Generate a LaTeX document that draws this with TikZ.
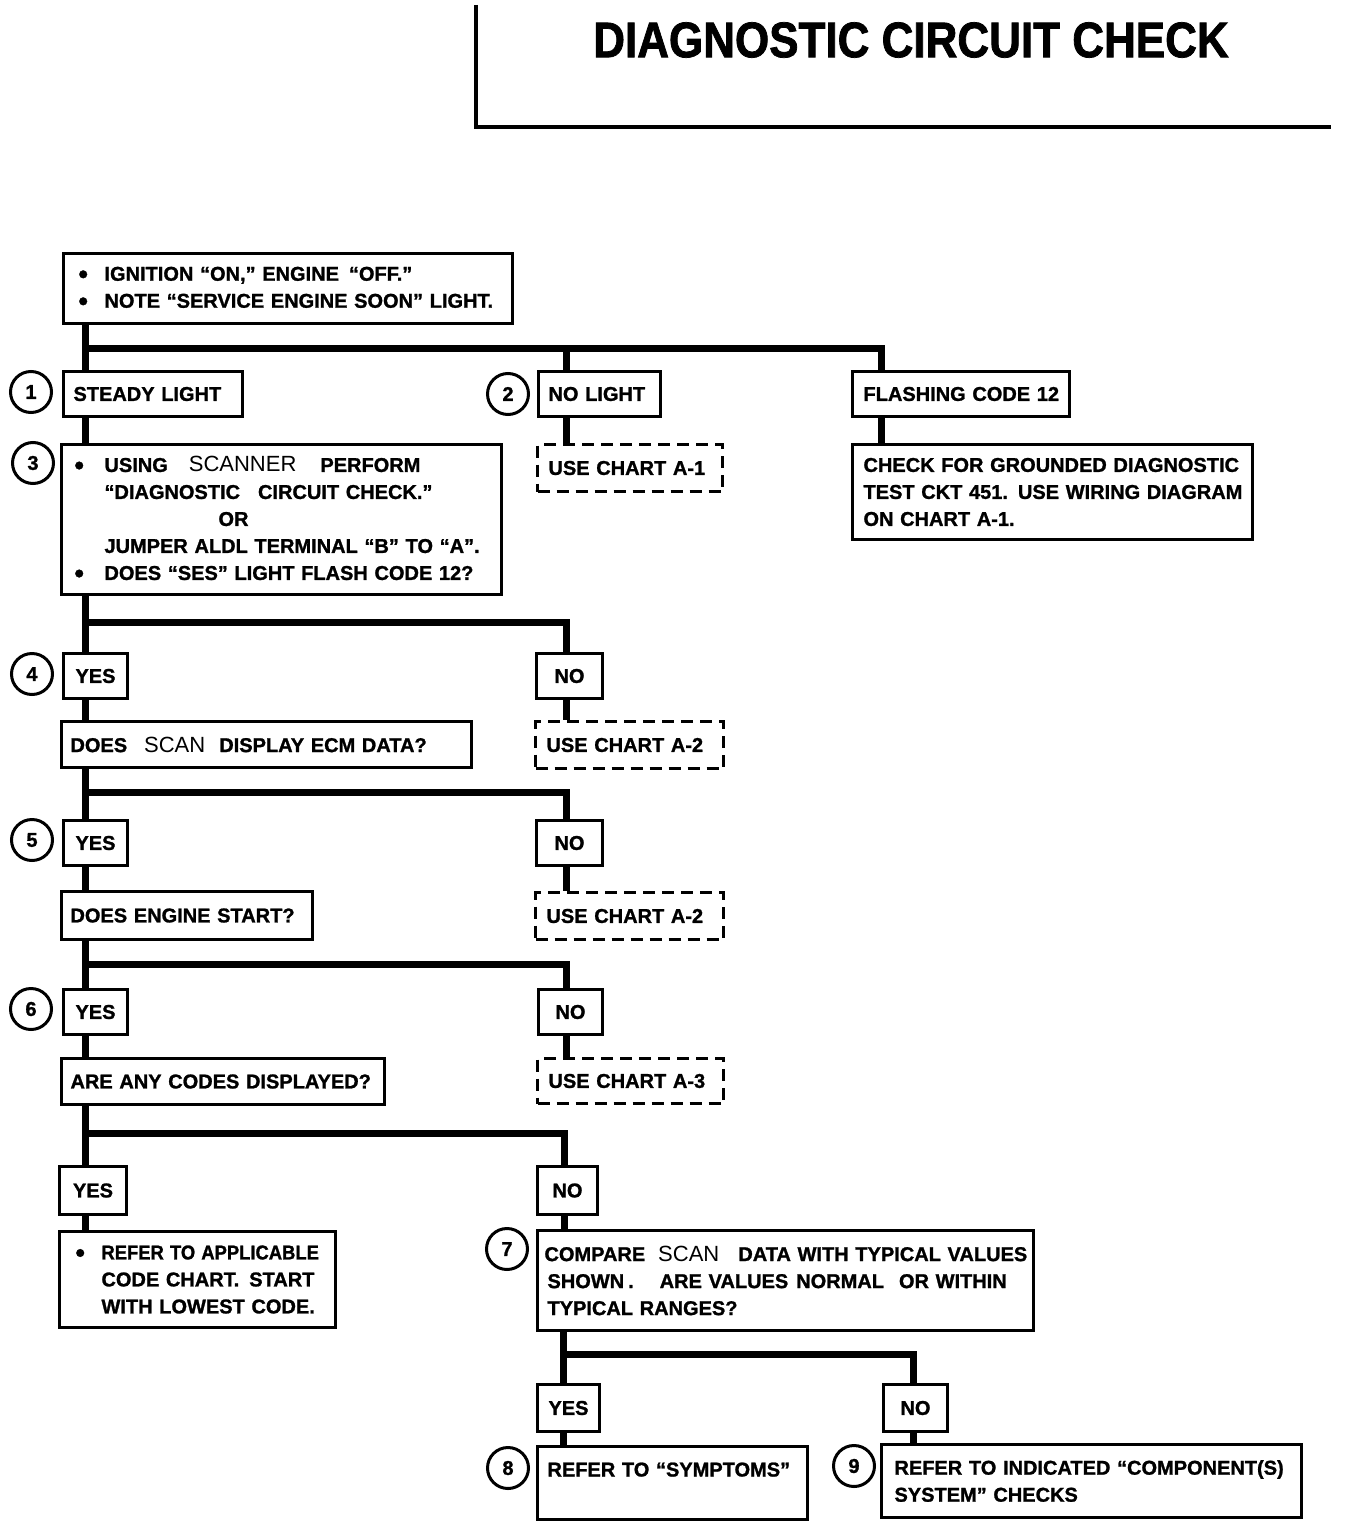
\documentclass[tikz,border=0pt]{standalone}
\usepackage{fontspec}
\setmainfont{Liberation Sans}[BoldFeatures={FakeBold=1.2}]
\newfontfamily\titlefont{Liberation Sans}[FakeStretch=0.88, BoldFeatures={FakeBold=1.5}]
\newcommand{\bodyfnt}{\fontsize{20}{27}\selectfont\bfseries}
\newcommand{\bulx}[1]{\makebox[#1][l]{\raisebox{-2.5pt}{\scalebox{1.35}{•}}}}
\newcommand{\scanw}[1]{{\fontsize{22}{27}\selectfont\mdseries #1}}
\begin{document}
\begin{tikzpicture}[x=1pt,y=-1pt,
  box/.style={draw, line width=3pt, anchor=north west, inner xsep=10pt, inner ysep=0pt, align=left, font=\bodyfnt},
  dbox/.style={box, dash pattern=on 12pt off 7pt},
  ybox/.style={draw, line width=3pt, anchor=north west, inner sep=0pt, align=center, font=\bodyfnt},
  num/.style={draw, circle, line width=3pt, minimum size=41pt, inner sep=0pt, font=\bodyfnt},
  conn/.style={line width=7pt, line join=miter},
  frame/.style={line width=3.5pt}]
\useasboundingbox[fill=white] (0,0) rectangle (1344,1528);

% title
\draw[frame] (476,5) -- (476,127) -- (1331,127);
\node[font=\titlefont\fontsize{50}{60}\selectfont\bfseries] (T) at (911,40) {DIAGNOSTIC CIRCUIT CHECK};

% row 0
\node[box, inner xsep=15pt, minimum width=449pt, minimum height=70pt, text width=419pt] (A) at (62,252)
  {\mbox{\bulx{26pt}IGNITION “ON,” ENGINE\hspace{10pt}“OFF.”}\\
   \mbox{\bulx{26pt}NOTE “SERVICE ENGINE SOON” LIGHT.}};

% row 1
\node[box, minimum width=179pt, minimum height=45pt, text width=159pt] (S1) at (62,370) {\mbox{STEADY LIGHT}};
\node[box, minimum width=122pt, minimum height=45pt, text width=102pt] (N1) at (537,370) {\mbox{NO LIGHT}};
\node[box, inner xsep=11pt, minimum width=217pt, minimum height=45pt, text width=195pt] (F1) at (851,370) {\mbox{FLASHING CODE 12}};
\node[num] (c1) at (31,392) {1};
\node[num] (c2) at (508,394) {2};

% row 2
\node[box, inner xsep=13pt, minimum width=440pt, minimum height=150pt, text width=414pt] (B3) at (60,443)
  {\mbox{\bulx{30pt}USING\hspace{21pt}\scanw{SCANNER}\hspace{24pt}PERFORM}\\
   \mbox{\hspace*{30pt}“DIAGNOSTIC\hspace{18pt}CIRCUIT CHECK.”}\\
   \mbox{\hspace*{144pt}OR}\\
   \mbox{\hspace*{30pt}JUMPER ALDL TERMINAL “B” TO “A”.}\\
   \mbox{\bulx{30pt}DOES “SES” LIGHT FLASH CODE 12?}};
\node[dbox, inner xsep=11pt, minimum width=185pt, minimum height=47pt, text width=163pt] (U1) at (536,443) {\mbox{USE CHART A-1}};
\node[box, inner xsep=11pt, minimum width=400pt, minimum height=95pt, text width=378pt] (C1) at (851,443)
  {\mbox{CHECK FOR GROUNDED DIAGNOSTIC}\\
   \mbox{TEST CKT 451.\hspace{10pt}USE WIRING DIAGRAM}\\
   \mbox{ON CHART A-1.}};
\node[num] (c3) at (33,463) {3};

% row 3
\node[ybox, minimum width=64pt, minimum height=45pt] (Y4) at (62,652) {YES};
\node[ybox, minimum width=66pt, minimum height=45pt] (N4) at (535,652) {NO};
\node[num] (c4) at (32,674) {4};
\node[box, inner xsep=9pt, minimum width=410pt, minimum height=46pt, text width=392pt] (D4) at (60,720)
  {\mbox{DOES\hspace{17pt}\scanw{SCAN}\hspace{14pt}DISPLAY ECM DATA?}};
\node[dbox, inner xsep=11pt, minimum width=188pt, minimum height=47pt, text width=166pt] (U2) at (534,720) {\mbox{USE CHART A-2}};

% row 4
\node[ybox, minimum width=64pt, minimum height=45pt] (Y5) at (62,819) {YES};
\node[ybox, minimum width=66pt, minimum height=45pt] (N5) at (535,819) {NO};
\node[num] (c5) at (32,840) {5};
\node[box, inner xsep=9pt, minimum width=251pt, minimum height=48pt, text width=233pt] (D5) at (60,890) {\mbox{DOES ENGINE START?}};
\node[dbox, inner xsep=11pt, minimum width=188pt, minimum height=47pt, text width=166pt] (U3) at (534,891) {\mbox{USE CHART A-2}};

% row 5
\node[ybox, minimum width=64pt, minimum height=45pt] (Y6) at (62,988) {YES};
\node[ybox, minimum width=64pt, minimum height=45pt] (N6) at (537,988) {NO};
\node[num] (c6) at (31,1009) {6};
\node[box, inner xsep=9pt, minimum width=323pt, minimum height=46pt, text width=305pt] (D6) at (60,1057) {\mbox{ARE ANY CODES DISPLAYED?}};
\node[dbox, inner xsep=11pt, minimum width=186pt, minimum height=45pt, text width=164pt] (U4) at (536,1057) {\mbox{USE CHART A-3}};

% row 6
\node[ybox, minimum width=67pt, minimum height=48pt] (Y7) at (58,1165) {YES};
\node[ybox, minimum width=60pt, minimum height=48pt] (N7) at (536,1165) {NO};
\node[box, inner xsep=16pt, minimum width=276pt, minimum height=96pt, text width=244pt] (R7) at (58,1230)
  {\mbox{\bulx{26pt}\scalebox{0.92}[1]{REFER TO APPLICABLE}}\\
   \mbox{\hspace*{26pt}CODE CHART.\hspace{10pt}START}\\
   \mbox{\hspace*{26pt}WITH LOWEST CODE.}};
\node[box, inner xsep=7pt, minimum width=496pt, minimum height=100pt, text width=482pt] (B7) at (536,1229)
  {\mbox{COMPARE\hspace{13pt}\scanw{SCAN}\hspace{19pt}DATA WITH TYPICAL VALUES}\\
   \mbox{\hspace*{3pt}SHOWN\hspace{4pt}.\hspace{26pt}ARE VALUES\hspace{8pt}NORMAL\hspace{15pt}OR WITHIN}\\
   \mbox{\hspace*{3pt}TYPICAL RANGES?}};
\node[num] (c7) at (507,1249) {7};

% row 7
\node[ybox, minimum width=62pt, minimum height=47pt] (Y8) at (536,1383) {YES};
\node[ybox, minimum width=64pt, minimum height=47pt] (N9) at (882,1383) {NO};
\node[box, minimum width=270pt, minimum height=73pt, text width=250pt] (S8) at (536,1445)
  {\mbox{REFER TO “SYMPTOMS”}\\ \mbox{}};
\node[box, inner xsep=13pt, minimum width=420pt, minimum height=73pt, text width=394pt] (B9) at (880,1443)
  {\mbox{REFER TO INDICATED “COMPONENT(S)}\\ \mbox{SYSTEM” CHECKS}};
\node[num] (c8) at (508,1468) {8};
\node[num] (c9) at (854,1466) {9};

% junction coordinates
\coordinate (j1) at (85,348); \coordinate (j1b) at (566,348); \coordinate (j1c) at (881,348);
\coordinate (j2) at (85,622); \coordinate (j2b) at (566,622);
\coordinate (j3) at (85,792); \coordinate (j3b) at (566,792);
\coordinate (j4) at (85,964); \coordinate (j4b) at (566,964);
\coordinate (j5) at (85,1133); \coordinate (j5b) at (564,1133);
\coordinate (j6) at (563,1354); \coordinate (j6b) at (913,1354);

% connectors
\draw[conn] (A.south -| j1) -- (S1.north -| j1);
\draw[conn] (j1) -- (j1c) -- (F1.north -| j1c);
\draw[conn] (j1b) -- (N1.north -| j1b);
\draw[conn] (S1.south -| j1) -- (B3.north -| j1);
\draw[conn] (N1.south -| j1b) -- (U1.north -| j1b);
\draw[conn] (F1.south -| j1c) -- (C1.north -| j1c);

\draw[conn] (B3.south -| j2) -- (Y4.north -| j2);
\draw[conn] (j2) -- (j2b) -- (N4.north -| j2b);
\draw[conn] (Y4.south -| j2) -- (D4.north -| j2);
\draw[conn] (N4.south -| j2b) -- (U2.north -| j2b);

\draw[conn] (D4.south -| j3) -- (Y5.north -| j3);
\draw[conn] (j3) -- (j3b) -- (N5.north -| j3b);
\draw[conn] (Y5.south -| j3) -- (D5.north -| j3);
\draw[conn] (N5.south -| j3b) -- (U3.north -| j3b);

\draw[conn] (D5.south -| j4) -- (Y6.north -| j4);
\draw[conn] (j4) -- (j4b) -- (N6.north -| j4b);
\draw[conn] (Y6.south -| j4) -- (D6.north -| j4);
\draw[conn] (N6.south -| j4b) -- (U4.north -| j4b);

\draw[conn] (D6.south -| j5) -- (Y7.north -| j5);
\draw[conn] (j5) -- (j5b) -- (N7.north -| j5b);
\draw[conn] (Y7.south -| j5) -- (R7.north -| j5);
\draw[conn] (N7.south -| j5b) -- (B7.north -| j5b);

\draw[conn] (B7.south -| j6) -- (Y8.north -| j6);
\draw[conn] (j6) -- (j6b) -- (N9.north -| j6b);
\draw[conn] (Y8.south -| j6) -- (S8.north -| j6);
\draw[conn] (N9.south -| j6b) -- (B9.north -| j6b);
\end{tikzpicture}
\end{document}
